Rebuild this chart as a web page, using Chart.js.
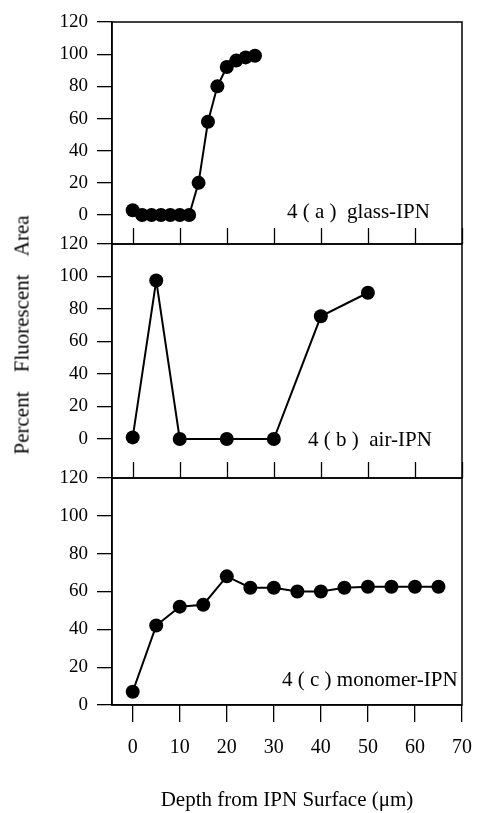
<!DOCTYPE html>
<html>
<head>
<meta charset="utf-8">
<script src="https://cdn.jsdelivr.net/npm/chart.js@4.4.1/dist/chart.umd.min.js"></script>
<style>
  html, body { margin: 0; padding: 0; background: #fff; }
  #wrap { position: relative; width: 477px; height: 813px; overflow: hidden; }
  #wrap canvas { position: absolute; left: 0; top: 0; }
  .lbl {
    position: absolute;
    font-family: "Liberation Serif", "Times New Roman", serif;
    font-size: 21px;
    line-height: 22px;
    color: #000;
    white-space: pre;
  }
  #ytitle {
    position: absolute;
    left: 22px;
    top: 335px;
    transform: translate(-50%, -50%) rotate(-90deg);
    font-family: "Liberation Serif", "Times New Roman", serif;
    font-size: 21px;
    word-spacing: 14px;
    white-space: pre;
  }
</style>
</head>
<body>
<div id="wrap">
  <canvas id="chartA" width="477" height="813"></canvas>
  <canvas id="chartB" width="477" height="813"></canvas>
  <canvas id="chartC" width="477" height="813"></canvas>
  <div class="lbl" style="left:287px; top:200px;">4 ( a )  glass-IPN</div>
  <div class="lbl" style="left:308px; top:428px;">4 ( b )  air-IPN</div>
  <div class="lbl" style="left:282px; top:668px;">4 ( c ) monomer-IPN</div>
  <div id="ytitle">Percent Fluorescent Area</div>
</div>
<script>
// depth (um) and percent fluorescent area
const depthA = [0, 2, 4, 6, 8, 10, 12, 14, 16, 18, 20, 22, 24, 26];
const areaA = [3, 0, 0, 0, 0, 0, 0, 20, 58, 80, 92, 96, 98, 99];

const depthB = [0, 5, 10, 20, 30, 40, 50];
const areaB = [1, 97.5, 0, 0, 0, 75.5, 90];

const depthC = [0, 5, 10, 15, 20, 25, 30, 35, 40, 45, 50, 55, 60, 65];
const areaC = [7, 42, 52, 53, 68, 62, 62, 60, 60, 62, 62.5, 62.5, 62.5, 62.5];

const xTicks = [0, 10, 20, 30, 40, 50, 60, 70];
const yTicks = [0, 20, 40, 60, 80, 100, 120];

const serif = "'Liberation Serif', 'Times New Roman', serif";

Chart.defaults.font.family = serif;
Chart.defaults.color = "#000";

// frame round the plot area, plus ticks pointing up from the bottom edge
const framePlugin = {
    id: "frame",
    afterDraw(chart, args, opts) {
        const ctx = chart.ctx;
        const area = chart.chartArea;
        const x = chart.scales.x;
        ctx.save();
        ctx.strokeStyle = "#000";
        ctx.lineWidth = 1.5;
        ctx.strokeRect(area.left, area.top, area.right - area.left, area.bottom - area.top);
        if (opts.innerTicks) {
            ctx.lineWidth = 1.3;
            xTicks.forEach(function (v) {
                const px = Math.round(x.getPixelForValue(v)) + 0.5;
                ctx.beginPath();
                ctx.moveTo(px, area.bottom);
                ctx.lineTo(px, area.bottom - opts.innerTicks);
                ctx.stroke();
            });
        }
        ctx.restore();
    }
};

function makePanel(id, xs, ys, yMin, top, bottom, showX) {
    const points = xs.map(function (x, i) {
        return { x: x, y: ys[i] };
    });

    return new Chart(document.getElementById(id), {
        type: "line",
        data: {
            datasets: [
                {
                    data: points,
                    borderColor: "#000",
                    borderWidth: 2,
                    backgroundColor: "#000",
                    pointRadius: 7,
                    pointBorderWidth: 0,
                    pointBackgroundColor: "#000",
                    tension: 0
                }
            ]
        },
        options: {
            responsive: false,
            animation: false,
            devicePixelRatio: 1,
            clip: false,
            layout: {
                padding: {
                    left: 0,
                    right: 15,
                    top: top,
                    bottom: showX ? 0 : 813 - bottom
                }
            },
            plugins: {
                legend: { display: false },
                tooltip: { enabled: false },
                frame: { innerTicks: showX ? 0 : 16 }
            },
            scales: {
                x: {
                    type: "linear",
                    min: -4.4,
                    max: 70,
                    display: showX,
                    afterBuildTicks: function (s) {
                        s.ticks = xTicks.map(function (v) { return { value: v }; });
                    },
                    afterFit: function (s) {
                        if (showX) s.height = 813 - bottom;
                        s.paddingLeft = 0;
                        s.paddingRight = 0;
                    },
                    grid: {
                        drawOnChartArea: false,
                        drawTicks: true,
                        tickLength: 17,
                        color: "#000",
                        lineWidth: 1.3
                    },
                    border: { color: "#000", width: 1.5 },
                    ticks: {
                        padding: 14,
                        maxRotation: 0,
                        font: { size: 20 }
                    },
                    title: {
                        display: true,
                        text: "Depth from IPN Surface (\u03bcm)",
                        font: { size: 21 },
                        padding: { top: 0, bottom: 0 }
                    }
                },
                y: {
                    type: "linear",
                    min: yMin,
                    max: 120,
                    afterBuildTicks: function (s) {
                        s.ticks = yTicks.map(function (v) { return { value: v }; });
                    },
                    afterFit: function (s) {
                        s.width = 112;
                    },
                    grid: {
                        drawOnChartArea: false,
                        drawTicks: true,
                        tickLength: 15,
                        color: "#000",
                        lineWidth: 1.3
                    },
                    border: { color: "#000", width: 1.5 },
                    ticks: {
                        padding: 9,
                        font: { size: 19 }
                    }
                }
            }
        },
        plugins: [framePlugin]
    });
}

makePanel("chartA", depthA, areaA, -18, 22, 244, false);
makePanel("chartB", depthB, areaB, -24, 244, 478, false);
makePanel("chartC", depthC, areaC, 0, 478, 705, true);
</script>
</body>
</html>
